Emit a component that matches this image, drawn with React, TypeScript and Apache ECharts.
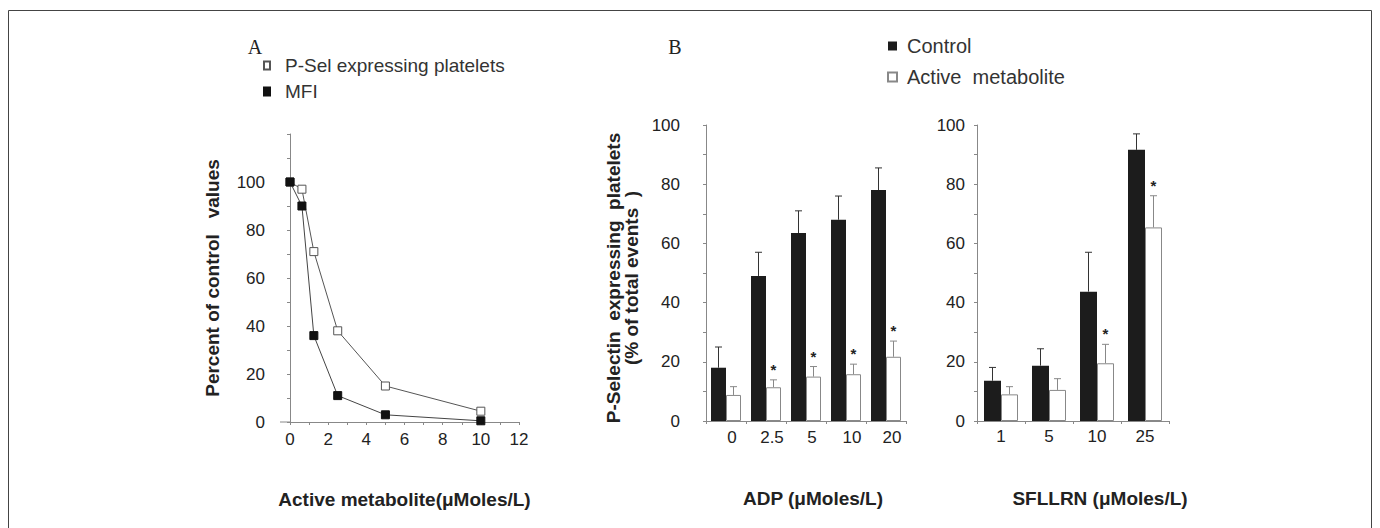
import React, { useEffect, useRef } from "react";
import * as echarts from "echarts";

// ---------- Panel A data ----------
const concA = [0, 0.625, 1.25, 2.5, 5, 10];
const pSelA = [100, 97, 71, 38, 15, 4.5];
const mfiA = [100, 90, 36, 11, 3, 0.5];

// ---------- Panel B (ADP) data ----------
const adpCats = ["0", "2.5", "5", "10", "20"];
const adpControl = [18, 49, 63.5, 68, 78];
const adpControlErr = [25, 57, 71, 76, 85.5];
const adpActive = [8.8, 11.4, 15, 15.8, 21.7];
const adpActiveErr = [11.6, 13.9, 18.4, 19.2, 27];
const adpStar = [0, 1, 1, 1, 1];

// ---------- Panel C (SFLLRN) data ----------
const sfCats = ["1", "5", "10", "25"];
const sfControl = [13.6, 18.7, 43.7, 91.6];
const sfControlErr = [18.1, 24.4, 57, 97];
const sfActive = [9, 10.5, 19.5, 65.4];
const sfActiveErr = [11.6, 14.3, 25.9, 76.1];
const sfStar = [0, 0, 1, 1];

const FONT = '"Liberation Sans", Arial, Helvetica, sans-serif';
const AXIS = "#888";
const TXT = "#222";

function errRows(c: number[], ce: number[], a: number[], ae: number[], s: number[]) {
  return c.map((v, i) => [i, v, ce[i], a[i], ae[i], s[i]]);
}

function makeErrRender(barW: number) {
  return (params: any, api: any) => {
    const i = api.value(0);
    const cx = api.coord([i, 0])[0];
    const bx = cx - barW / 2;
    const wx = cx + barW / 2;
    const cTop = api.coord([i, api.value(1)])[1];
    const cErr = api.coord([i, api.value(2)])[1];
    const aTop = api.coord([i, api.value(3)])[1];
    const aErr = api.coord([i, api.value(4)])[1];
    const cap = 3.5;
    const children: any[] = [
      { type: "line", shape: { x1: bx, y1: cTop, x2: bx, y2: cErr }, style: { stroke: "#333", lineWidth: 1 } },
      { type: "line", shape: { x1: bx - cap, y1: cErr, x2: bx + cap, y2: cErr }, style: { stroke: "#333", lineWidth: 1 } },
      { type: "line", shape: { x1: wx, y1: aTop, x2: wx, y2: aErr }, style: { stroke: "#888", lineWidth: 1 } },
      { type: "line", shape: { x1: wx - cap, y1: aErr, x2: wx + cap, y2: aErr }, style: { stroke: "#888", lineWidth: 1 } },
    ];
    if (api.value(5)) {
      children.push({
        type: "text",
        style: {
          text: "*",
          x: wx,
          y: aErr - 3,
          textAlign: "center",
          textVerticalAlign: "bottom",
          fontSize: 15,
          fontWeight: "bold",
          fontFamily: FONT,
          fill: "#222",
        },
      });
    }
    return { type: "group", children };
  };
}

function valueY(gridIndex: number, max: number, margin: number, extra: any = {}) {
  return {
    type: "value",
    gridIndex,
    min: 0,
    max,
    interval: 10,
    axisLine: { show: true, lineStyle: { color: AXIS, width: 1 } },
    axisTick: { show: true, length: 3, lineStyle: { color: AXIS } },
    splitLine: { show: false },
    axisLabel: {
      fontSize: 17,
      color: TXT,
      fontFamily: FONT,
      margin,
      formatter: (v: number) => (v % 20 === 0 && v <= 100 ? String(v) : ""),
    },
    ...extra,
  };
}

export default function App() {
  const ref = useRef<HTMLDivElement>(null);

  useEffect(() => {
    if (!ref.current) return;
    const chart = echarts.init(ref.current, null, { renderer: "svg" });

    const option: any = {
      animation: false,
      backgroundColor: "#fff",
      textStyle: { fontFamily: FONT },
      graphic: [
        {
          type: "rect",
          shape: { x: 8.5, y: 10.5, width: 1363, height: 540 },
          style: { fill: "none", stroke: "#444", lineWidth: 1 },
          silent: true,
        },
        {
          type: "line",
          shape: { x1: 280, y1: 422, x2: 290, y2: 422 },
          style: { stroke: AXIS, lineWidth: 1 },
        },
        {
          type: "text",
          style: {
            text: "A",
            x: 255,
            y: 47,
            textAlign: "center",
            textVerticalAlign: "middle",
            fontSize: 20,
            fontFamily: '"Liberation Serif", "Times New Roman", serif',
            fill: TXT,
          },
        },
        {
          type: "text",
          style: {
            text: "B",
            x: 675,
            y: 47,
            textAlign: "center",
            textVerticalAlign: "middle",
            fontSize: 20,
            fontFamily: '"Liberation Serif", "Times New Roman", serif',
            fill: TXT,
          },
        },
      ],
      legend: [
        {
          data: ["P-Sel expressing platelets", "MFI"],
          orient: "vertical",
          left: 263,
          top: 56,
          padding: 0,
          itemWidth: 6,
          itemHeight: 8,
          itemGap: 7,
          icon: "rect",
          selectedMode: false,
          textStyle: { fontSize: 19, color: "#333", fontFamily: FONT, padding: [0, 0, 0, 10] },
        },
        {
          data: ["Control", "Active metabolite"],
          orient: "vertical",
          left: 887,
          top: 36,
          padding: 0,
          itemWidth: 9,
          itemHeight: 9,
          itemGap: 11,
          icon: "rect",
          selectedMode: false,
          formatter: (n: string) => (n === "Active metabolite" ? "Active  metabolite" : n),
          textStyle: { fontSize: 20, color: "#333", fontFamily: FONT, padding: [0, 0, 0, 5] },
        },
      ],
      grid: [
        { left: 290, top: 134, width: 229, height: 288 },
        { left: 706, top: 125, width: 200, height: 296 },
        { left: 977, top: 125, width: 192, height: 296 },
      ],
      xAxis: [
        {
          type: "value",
          gridIndex: 0,
          min: 0,
          max: 12,
          interval: 1,
          axisLine: { show: true, onZero: false, lineStyle: { color: AXIS, width: 1 } },
          axisTick: { show: true, length: 3, lineStyle: { color: AXIS } },
          splitLine: { show: false },
          axisLabel: {
            fontSize: 17,
            color: TXT,
            margin: 9,
            formatter: (v: number) => (v % 2 === 0 ? String(v) : ""),
          },
          name: "Active metabolite(μMoles/L)",
          nameLocation: "middle",
          nameGap: 68,
          nameTextStyle: { fontSize: 19, fontWeight: "bold", color: TXT },
        },
        {
          type: "category",
          gridIndex: 1,
          data: adpCats,
          axisLine: { show: true, lineStyle: { color: AXIS, width: 1 } },
          axisTick: { show: true, length: 3, lineStyle: { color: AXIS } },
          axisLabel: { fontSize: 17, color: TXT, margin: 8, padding: [0, 0, 0, 12] },
          name: "ADP (μMoles/L)",
          nameLocation: "middle",
          nameGap: 68,
          nameTextStyle: { fontSize: 19, fontWeight: "bold", color: TXT, padding: [0, 0, 0, 14] },
        },
        {
          type: "category",
          gridIndex: 2,
          data: sfCats,
          axisLine: { show: true, lineStyle: { color: AXIS, width: 1 } },
          axisTick: { show: true, length: 3, lineStyle: { color: AXIS } },
          axisLabel: { fontSize: 17, color: TXT, margin: 7 },
          name: "SFLLRN (μMoles/L)",
          nameLocation: "middle",
          nameGap: 68,
          nameTextStyle: { fontSize: 19, fontWeight: "bold", color: TXT, padding: [0, 0, 0, 54] },
        },
      ],
      yAxis: [
        valueY(0, 120, 15, {
          offset: 10,
          name: "Percent of control   values",
          nameLocation: "middle",
          nameRotate: 90,
          nameGap: 58,
          nameTextStyle: { fontSize: 19, fontWeight: "bold", color: TXT },
        }),
        valueY(1, 100, 26, {
          name: "P-Selectin  expressing  platelets\n(% of total events  )",
          nameLocation: "middle",
          nameRotate: 90,
          nameGap: 66,
          nameTextStyle: { fontSize: 19, fontWeight: "bold", color: TXT, lineHeight: 18, padding: [0, 10, 0, 0] },
        }),
        valueY(2, 100, 12),
      ],
      series: [
        {
          name: "P-Sel expressing platelets",
          type: "line",
          xAxisIndex: 0,
          yAxisIndex: 0,
          data: concA.map((x, i) => [x, pSelA[i]]),
          symbol: "rect",
          symbolSize: 8,
          lineStyle: { color: "#555", width: 1 },
          itemStyle: { color: "#fff", borderColor: "#555", borderWidth: 1 },
          z: 3,
        },
        {
          name: "MFI",
          type: "line",
          xAxisIndex: 0,
          yAxisIndex: 0,
          data: concA.map((x, i) => [x, mfiA[i]]),
          symbol: "rect",
          symbolSize: 8,
          lineStyle: { color: "#444", width: 1 },
          itemStyle: { color: "#111", borderColor: "#111", borderWidth: 1 },
          z: 4,
        },
        {
          name: "Control",
          type: "bar",
          xAxisIndex: 1,
          yAxisIndex: 1,
          data: adpControl,
          barWidth: 15,
          barGap: "0%",
          itemStyle: { color: "#1c1c1c" },
        },
        {
          name: "Active metabolite",
          type: "bar",
          xAxisIndex: 1,
          yAxisIndex: 1,
          data: adpActive,
          barWidth: 15,
          barGap: "0%",
          itemStyle: { color: "#fff", borderColor: "#888", borderWidth: 1 },
        },
        {
          type: "custom",
          xAxisIndex: 1,
          yAxisIndex: 1,
          data: errRows(adpControl, adpControlErr, adpActive, adpActiveErr, adpStar),
          encode: { x: 0, y: 2 },
          renderItem: makeErrRender(15),
          z: 5,
          silent: true,
        },
        {
          name: "Control",
          type: "bar",
          xAxisIndex: 2,
          yAxisIndex: 2,
          data: sfControl,
          barWidth: 17,
          barGap: "0%",
          itemStyle: { color: "#1c1c1c" },
        },
        {
          name: "Active metabolite",
          type: "bar",
          xAxisIndex: 2,
          yAxisIndex: 2,
          data: sfActive,
          barWidth: 17,
          barGap: "0%",
          itemStyle: { color: "#fff", borderColor: "#888", borderWidth: 1 },
        },
        {
          type: "custom",
          xAxisIndex: 2,
          yAxisIndex: 2,
          data: errRows(sfControl, sfControlErr, sfActive, sfActiveErr, sfStar),
          encode: { x: 0, y: 2 },
          renderItem: makeErrRender(17),
          z: 5,
          silent: true,
        },
      ],
    };

    chart.setOption(option);
    return () => chart.dispose();
  }, []);

  return (
    <div
      ref={ref}
      style={{ position: "fixed", left: 0, top: 0, width: 1380, height: 528, background: "#fff" }}
    />
  );
}
